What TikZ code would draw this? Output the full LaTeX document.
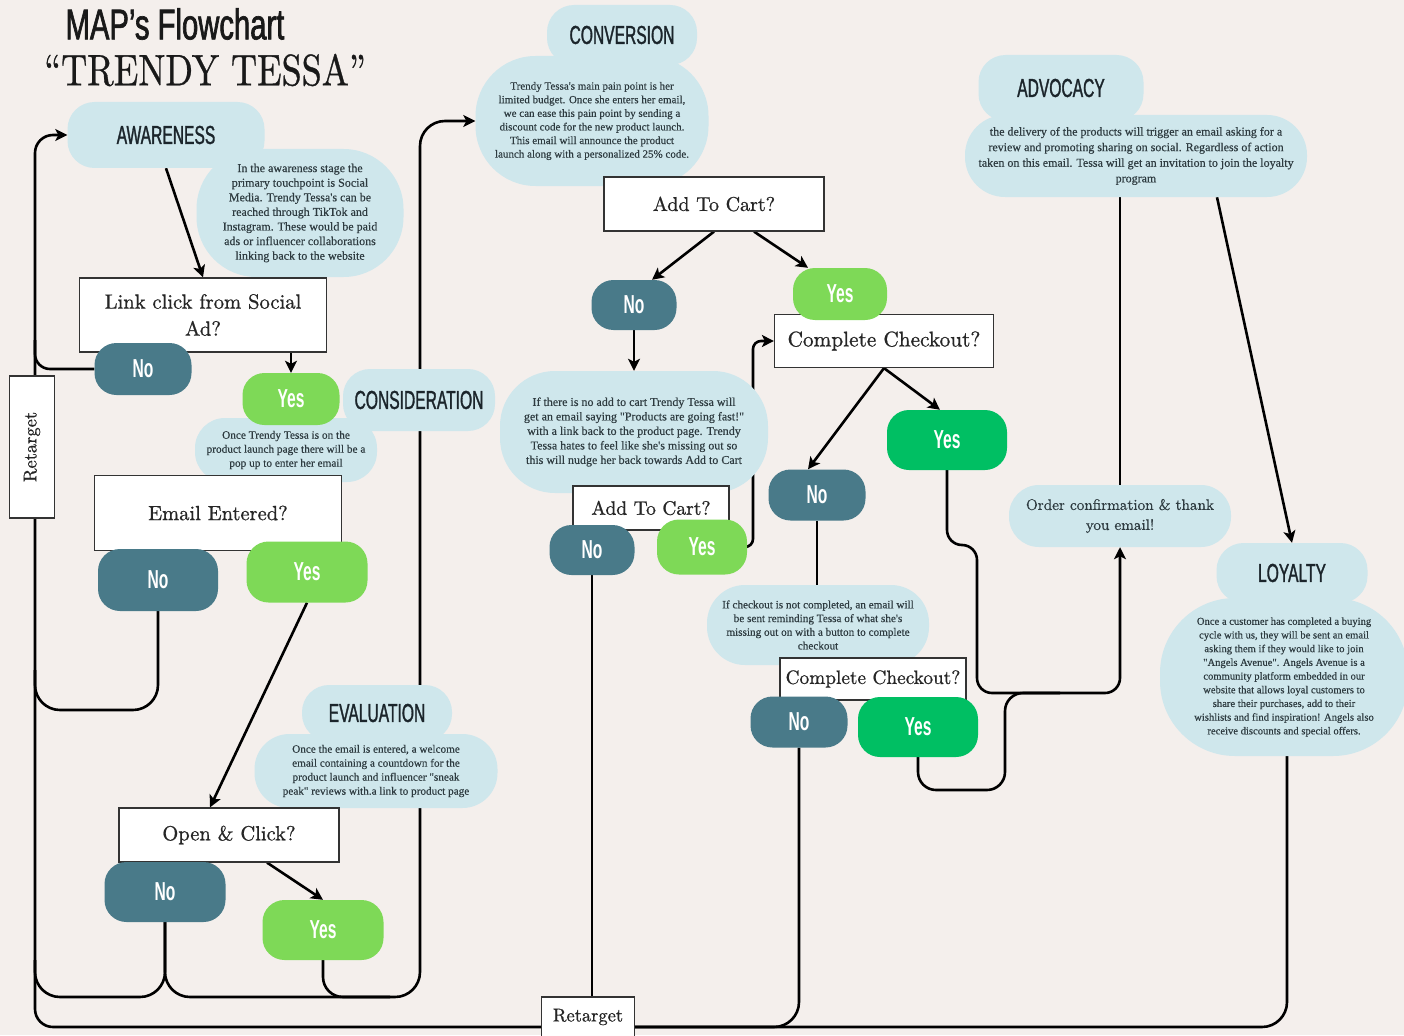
\documentclass[tikz,border=0pt]{standalone}
\usepackage{fontspec}
\usepackage{graphicx}
\usetikzlibrary{arrows.meta}
\newfontfamily\headfont[FakeStretch=0.6,FakeBold=1.2]{Liberation Sans}
\newfontfamily\pillfont[FakeStretch=0.6]{Liberation Sans Bold}
\newfontfamily\titlesans[FakeStretch=0.68,FakeBold=1.5]{Liberation Sans}
\newfontfamily\bodyfont[FakeBold=0.4]{Liberation Serif}
\newfontfamily\boxfont[FakeBold=0.8]{lmroman10-regular.otf}
\definecolor{bgc}{HTML}{F4EFEC}
\definecolor{lblue}{HTML}{CFE7EC}
\definecolor{tealc}{HTML}{497A89}
\definecolor{greenc}{HTML}{7ED957}
\definecolor{dgreen}{HTML}{00BF63}
\definecolor{bodytxt}{HTML}{2E3B40}
\definecolor{headtxt}{HTML}{1B252B}
\definecolor{boxline}{HTML}{333333}
\pgfdeclarelayer{back}
\pgfdeclarelayer{bg}
\pgfsetlayers{back,bg,main}
\tikzset{
  blob/.style={fill=lblue, inner sep=0pt, align=center, text=bodytxt},
  head/.style={fill=lblue, rounded corners=27pt, inner sep=0pt, text=headtxt,
    font=\headfont\fontsize{26}{30}\selectfont},
  qbox/.style={draw=boxline, line width=1.2pt, fill=white, inner sep=0pt,
    align=center, text=black!85},
  pill/.style={rounded corners=22pt, inner sep=0pt, text=white,
    font=\pillfont\fontsize{26}{30}\selectfont},
  nopill/.style={pill, fill=tealc},
  yespill/.style={pill, fill=greenc},
  yesdark/.style={pill, fill=dgreen},
  conn/.style={draw=black, line width=2.6pt},
  arr/.style={conn, -{Stealth[length=12pt,width=12pt,inset=3pt]}}
}
\begin{document}
\begin{tikzpicture}[x=1pt,y=-1pt]
\useasboundingbox (0,0) rectangle (1404,1035);
\begin{pgfonlayer}{back}
\fill[bgc] (0,0) rectangle (1404,1035);
\end{pgfonlayer}

% titles
\node[inner sep=0pt, text=black!90, font=\titlesans\fontsize{43}{48}\selectfont] (t1) at (175,24) {MAP’s Flowchart};
\node[inner sep=0pt, text=black!90] (t2) at (205,70) {\scalebox{0.82}[1]{\boxfont\fontsize{44}{50}\selectfont “TRENDY TESSA”}};

% stage bubbles and texts
\node[head, minimum width=197pt, minimum height=66pt] (awH) at (166,135) {AWARENESS};
\node[blob, rounded corners=60pt, minimum width=207pt, minimum height=128pt, font=\bodyfont\fontsize{12}{14.6}\selectfont] (awT) at (300,213)
 {In the awareness stage the\\primary touchpoint is Social\\Media. Trendy Tessa's can be\\reached through TikTok and\\Instagram. These would be paid\\ads or influencer collaborations\\linking back to the website};

\node[head, minimum width=152pt, minimum height=62pt] (coH) at (419,400) {CONSIDERATION};
\node[blob, rounded corners=30pt, minimum width=182pt, minimum height=64pt, font=\bodyfont\fontsize{11.3}{14}\selectfont] (coT) at (286,450)
 {Once Trendy Tessa is on the\\product launch page there will be a\\pop up to enter her email};

\node[head, minimum width=150pt, minimum height=56pt] (evH) at (377,713) {EVALUATION};
\node[blob, rounded corners=35pt, minimum width=243pt, minimum height=74pt, font=\bodyfont\fontsize{11.2}{14}\selectfont] (evT) at (376,771)
 {Once the email is entered, a welcome\\email containing a countdown for the\\product launch and influencer "sneak\\peak" reviews with.a link to product page};

\node[head, minimum width=150pt, minimum height=60pt] (cvH) at (622,35) {CONVERSION};
\node[blob, rounded corners=60pt, minimum width=233pt, minimum height=130pt, font=\bodyfont\fontsize{11}{13.6}\selectfont] (cvT) at (592,121)
 {Trendy Tessa's main pain point is her\\limited budget. Once she enters her email,\\we can ease this pain point by sending a\\discount code for the new product launch.\\This email will announce the product\\launch along with a personalized 25\% code.};

\node[blob, rounded corners=55pt, minimum width=268pt, minimum height=122pt, font=\bodyfont\fontsize{12}{14.5}\selectfont] (ncT) at (634,432)
 {If there is no add to cart Trendy Tessa will\\get an email saying "Products are going fast!"\\with a link back to the product page. Trendy\\Tessa hates to feel like she's missing out so\\this will nudge her back towards Add to Cart};

\node[blob, rounded corners=38pt, minimum width=222pt, minimum height=80pt, font=\bodyfont\fontsize{11.2}{13.7}\selectfont] (ckT) at (818,625)
 {If checkout is not completed, an email will\\be sent reminding Tessa of what she's\\missing out on with a button to complete\\checkout};

\node[blob, rounded corners=30pt, minimum width=222pt, minimum height=62pt, font=\boxfont\fontsize{15.2}{20}\selectfont] (order) at (1120,516)
 {Order confirmation \& thank\\you email!};

\node[head, minimum width=165pt, minimum height=66pt] (adH) at (1061,88) {ADVOCACY};
\node[blob, rounded corners=40pt, minimum width=342pt, minimum height=82pt, font=\bodyfont\fontsize{12}{15.6}\selectfont] (adT) at (1136,156)
 {the delivery of the products will trigger an email asking for a\\review and promoting sharing on social. Regardless of action\\taken on this email. Tessa will get an invitation to join the loyalty\\program};

\node[head, minimum width=151pt, minimum height=60pt] (loH) at (1292,573) {LOYALTY};
\node[blob, rounded corners=75pt, minimum width=248pt, minimum height=158pt, font=\bodyfont\fontsize{10.6}{13.7}\selectfont] (loT) at (1284,677)
 {Once a customer has completed a buying\\cycle with us, they will be sent an email\\asking them if they would like to join\\"Angels Avenue". Angels Avenue is a\\community platform embedded in our\\website that allows loyal customers to\\share their purchases, add to their\\wishlists and find inspiration! Angels also\\receive discounts and special offers.};

% question boxes
\node[qbox, minimum width=247pt, minimum height=74pt, font=\boxfont\fontsize{20.6}{27}\selectfont] (link) at (203,315) {Link click from Social\\Ad?};
\node[qbox, minimum width=247pt, minimum height=75pt, font=\boxfont\fontsize{20.5}{26}\selectfont] (email) at (218,513) {Email Entered?};
\node[qbox, minimum width=220pt, minimum height=54pt, font=\boxfont\fontsize{20.5}{26}\selectfont] (open) at (229,835) {Open \& Click?};
\node[qbox, minimum width=220pt, minimum height=54pt, font=\boxfont\fontsize{20}{26}\selectfont] (cart) at (714,204) {Add To Cart?};
\node[qbox, minimum width=219pt, minimum height=53pt, font=\boxfont\fontsize{21.3}{26}\selectfont] (check) at (884,341) {Complete Checkout?};
\node[qbox, minimum width=156pt, minimum height=44pt, font=\boxfont\fontsize{19.5}{24}\selectfont] (cart2) at (651,508) {Add To Cart?};
\node[qbox, minimum width=186pt, minimum height=42pt, font=\boxfont\fontsize{19.3}{24}\selectfont] (check2) at (873,679) {Complete Checkout?};
\node[qbox, rotate=90, minimum width=142pt, minimum height=45pt, font=\boxfont\fontsize{18.5}{22}\selectfont] (retL) at (32,447) {Retarget};
\node[qbox, minimum width=93pt, minimum height=40pt, font=\boxfont\fontsize{18.5}{22}\selectfont] (retB) at (588,1017) {Retarget};

% pills
\node[nopill, minimum width=97pt, minimum height=52pt] (noA) at (143,369) {No};
\node[yespill, minimum width=97pt, minimum height=52pt] (yesA) at (291,399) {Yes};
\node[nopill, minimum width=120pt, minimum height=62pt] (noE) at (158,580) {No};
\node[yespill, minimum width=121pt, minimum height=61pt] (yesE) at (307,572) {Yes};
\node[nopill, minimum width=121pt, minimum height=60pt] (noO) at (165,892) {No};
\node[yespill, minimum width=121pt, minimum height=60pt] (yesO) at (323,930) {Yes};
\node[nopill, minimum width=85pt, minimum height=50pt] (noC) at (634,305) {No};
\node[yespill, minimum width=94pt, minimum height=52pt] (yesC) at (840,294) {Yes};
\node[nopill, minimum width=85pt, minimum height=50pt] (noC2) at (592,550) {No};
\node[yespill, minimum width=90pt, minimum height=55pt] (yesC2) at (702,547) {Yes};
\node[nopill, minimum width=97pt, minimum height=51pt] (noK) at (817,495) {No};
\node[yesdark, minimum width=120pt, minimum height=60pt] (yesK) at (947,440) {Yes};
\node[nopill, minimum width=97pt, minimum height=51pt] (noK2) at (799,722) {No};
\node[yesdark, minimum width=120pt, minimum height=60pt] (yesK2) at (918,727) {Yes};

\coordinate (busL) at (541,1027);
\coordinate (busR) at (634,1027);

\begin{pgfonlayer}{bg}
% left retarget bus back to awareness
\draw[arr, rounded corners=18pt] (busL) -- (35,1027) -- (35,135) -- (awH.west);
\draw[conn, rounded corners=15pt] (noA.west) -| (35,340);
\draw[conn, rounded corners=25pt] (noE.south) |- (35,710) -- (35,670);
\draw[conn, rounded corners=25pt] (noO.south) |- (35,997) -- (35,960);
\draw[arr, rounded corners=25pt] (noO.south) |- (420,997) -- (420,121) -- (cvT.west);
\draw[conn, rounded corners=20pt] (yesO.south) |- (390,997);
% right bus
\draw[conn, rounded corners=25pt] (busR) -- (1287,1027) -- (loT.south -| 1287,0);
\draw[conn, rounded corners=25pt] (noK2.south) |- (busR);
\draw[conn] (noC2.south) -- (noC2.south |- retB.north);
% awareness / consideration / evaluation
\draw[arr] (awH.south) -- (link.north);
\draw[arr] (link.south -| yesA.north) -- (yesA.north);
\draw[arr] (yesE.south) -- ([xshift=-19pt]open.north);
\draw[arr] ([xshift=38pt]open.south) -- (yesO.north);
% conversion
\draw[arr] (cart.south) -- ([xshift=18pt]noC.north);
\draw[arr] ([xshift=40pt]cart.south) -- ([xshift=-32pt]yesC.north);
\draw[arr] (noC.south) -- (ncT.north);
\draw[arr, rounded corners=8pt] (yesC2.east) -| (753,341) -- (check.west);
\draw[arr] (check.south) -- ([xshift=-9pt]noK.north);
\draw[arr] (check.south) -- ([xshift=-7pt]yesK.north);
\draw[conn] (noK.south) -- (noK.south |- ckT.north);
\draw[arr, rounded corners=15pt] (yesK.south) |- (977,545) -- (977,693) -| (order.south);
\draw[conn, rounded corners=18pt] (yesK2.south) |- (1005,790) |- (1060,693);
% advocacy / loyalty
\draw[conn] (order.north) -- (order.north |- adT.south);
\draw[arr] ([xshift=81pt]adT.south) -- (loH.north);
\end{pgfonlayer}
\end{tikzpicture}
\end{document}
